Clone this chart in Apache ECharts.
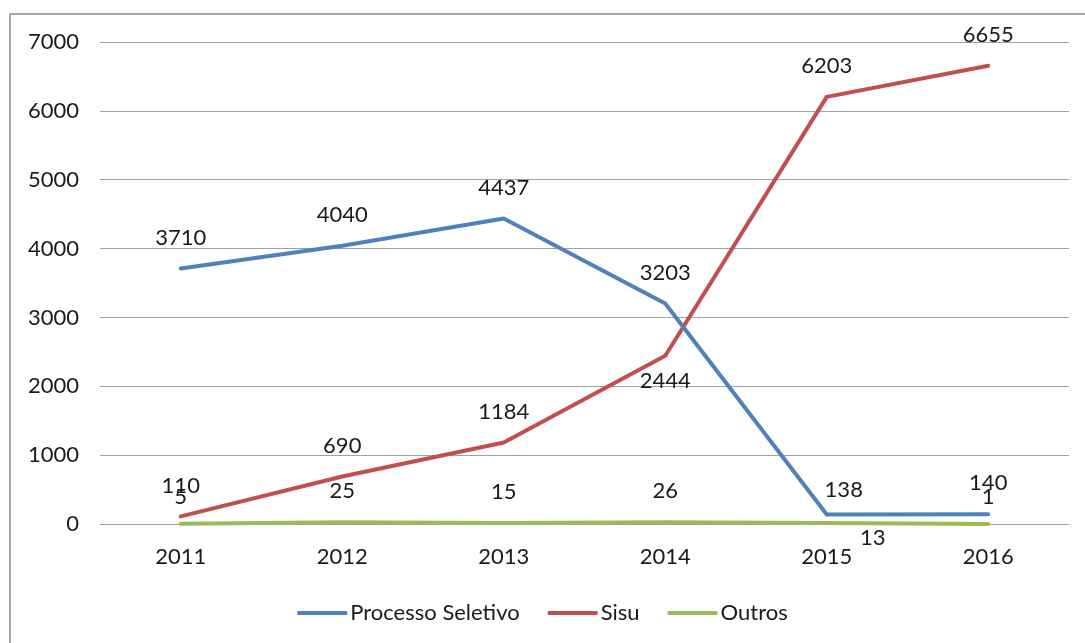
<!DOCTYPE html>
<html>
<head>
<meta charset="utf-8">
<script src="https://cdn.jsdelivr.net/npm/echarts@6/dist/echarts.min.js"></script>
<style>
html,body{margin:0;padding:0;background:#fff;}
#chart{width:1085px;height:643px;}
</style>
</head>
<body>
<div id="chart"></div>
<script>
const years = ['2011', '2012', '2013', '2014', '2015', '2016'];
const processoSeletivo = [3710, 4040, 4437, 3203, 138, 140];
const sisu = [110, 690, 1184, 2444, 6203, 6655];
const outros = [5, 25, 15, 26, 13, 1];
const yTicks = { min: 0, max: 7000, interval: 1000 };

const FONT = 'Lato';
const FS = 22;
const labelBase = { show: true, position: 'top', distance: 20, color: '#1a1a1a', fontSize: FS, fontFamily: FONT };

// per-point label tweaks (style only)
function withLabels(values, tweaks) {
  return values.map((v, i) => {
    const t = tweaks[i];
    return t ? { value: v, label: t } : v;
  });
}

const chart = echarts.init(document.getElementById('chart'));
chart.setOption({
  animation: false,
  backgroundColor: '#fff',
  textStyle: { fontFamily: FONT },
  grid: { left: 100, right: 16, top: 42, bottom: 119 },
  graphic: [{
    type: 'polyline',
    shape: { points: [[10, 643], [10, 14], [1085, 14]] },
    style: { stroke: '#a6a6a6', lineWidth: 2, fill: null }
  }],
  xAxis: {
    type: 'category',
    data: years,
    boundaryGap: true,
    axisLine: { show: false },
    axisTick: { show: false },
    axisLabel: { color: '#1a1a1a', fontSize: FS, fontFamily: FONT, margin: 22 }
  },
  yAxis: {
    type: 'value',
    min: yTicks.min, max: yTicks.max, interval: yTicks.interval,
    axisLine: { show: false },
    axisTick: { show: false },
    axisLabel: { color: '#1a1a1a', fontSize: FS, fontFamily: FONT, margin: 21, formatter: v => String(v) },
    splitLine: { lineStyle: { color: '#a0a0a0', width: 1 } }
  },
  legend: {
    left: 'center',
    top: 597,
    itemWidth: 50,
    itemHeight: 4,
    itemGap: 28,
    icon: 'roundRect',
    textStyle: { fontSize: FS, fontFamily: FONT, color: '#1a1a1a', padding: [0, 0, 0, -2] },
    data: ['Processo Seletivo', 'Sisu', 'Outros']
  },
  series: [
    {
      name: 'Processo Seletivo',
      type: 'line',
      data: withLabels(processoSeletivo, { 4: { offset: [17, 6] } }),
      color: '#4f81bd',
      lineStyle: { width: 4, color: '#4f81bd', cap: 'round', join: 'round' },
      showSymbol: true, symbol: 'circle', symbolSize: 0.01, showAllSymbol: true,
      label: labelBase,
      z: 3
    },
    {
      name: 'Sisu',
      type: 'line',
      data: withLabels(sisu, { 3: { position: 'bottom', distance: 14 } }),
      color: '#c0504d',
      lineStyle: { width: 4, color: '#c0504d', cap: 'round', join: 'round' },
      showSymbol: true, symbol: 'circle', symbolSize: 0.01, showAllSymbol: true,
      label: labelBase,
      z: 2
    },
    {
      name: 'Outros',
      type: 'line',
      data: withLabels(outros, { 0: { offset: [0, 4] }, 4: { position: 'bottom', distance: 4, offset: [46, 0] }, 5: { offset: [0, 4] } }),
      color: '#9bbb59',
      lineStyle: { width: 4, color: '#9bbb59', cap: 'round', join: 'round' },
      showSymbol: true, symbol: 'circle', symbolSize: 0.01, showAllSymbol: true,
      label: labelBase,
      z: 1
    }
  ]
});
</script>
</body>
</html>
